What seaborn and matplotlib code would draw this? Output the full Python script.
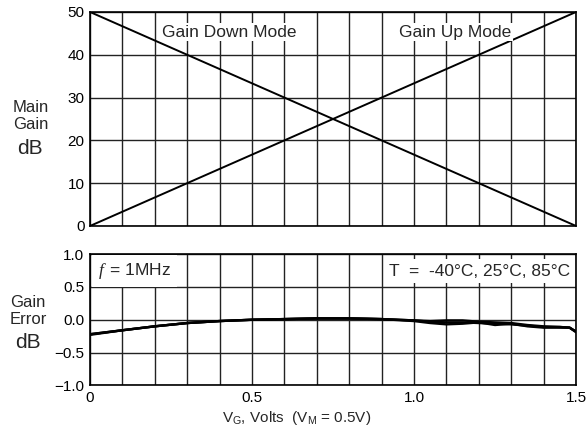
import numpy as np
import pandas as pd
import matplotlib.pyplot as plt
import seaborn as sns
from matplotlib.ticker import MultipleLocator, FixedLocator, FixedFormatter

# main gain vs VG (straight lines)
vg_gain = [0.0, 1.5]
gain_down = [50, 0]
gain_up = [0, 50]

# gain error vs VG, three temperatures
vg_err = [0.0, 0.1, 0.2, 0.3, 0.4, 0.5, 0.6, 0.7, 0.8, 0.9, 1.0,
          1.05, 1.1, 1.15, 1.2, 1.25, 1.3, 1.35, 1.4, 1.45, 1.48, 1.5]
err_m40 = [-0.22, -0.16, -0.10, -0.05, -0.02, 0.00, 0.01, 0.02, 0.02, 0.01, -0.01,
           -0.02, -0.01, -0.01, -0.03, -0.04, -0.05, -0.08, -0.10, -0.11, -0.12, -0.18]
err_25 = [-0.22, -0.16, -0.10, -0.05, -0.02, 0.00, 0.01, 0.02, 0.02, 0.01, -0.01,
          -0.03, -0.04, -0.04, -0.05, -0.06, -0.07, -0.09, -0.11, -0.11, -0.12, -0.18]
err_85 = [-0.23, -0.16, -0.10, -0.05, -0.02, 0.00, 0.01, 0.02, 0.02, 0.01, -0.02,
          -0.05, -0.07, -0.06, -0.04, -0.08, -0.06, -0.10, -0.12, -0.12, -0.12, -0.19]

x_ticks = [0, 0.5, 1.0, 1.5]
x_tick_labels = ["0", "0.5", "1.0", "1.5"]
gain_ticks = [0, 10, 20, 30, 40, 50]
gain_tick_labels = ["0", "10", "20", "30", "40", "50"]
err_ticks = [-1.0, -0.5, 0.0, 0.5, 1.0]
err_tick_labels = ["\u22121.0", "\u22120.5", "0.0", "0.5", "1.0"]

sns.set_style("white")
plt.rcParams["font.family"] = ["Liberation Sans", "DejaVu Sans"]
plt.rcParams["mathtext.fontset"] = "custom"
plt.rcParams["mathtext.rm"] = "Liberation Sans"
plt.rcParams["mathtext.sf"] = "Liberation Sans"
plt.rcParams["mathtext.it"] = "Liberation Serif:italic"

df_gain = pd.DataFrame({
    "VG": vg_gain + vg_gain,
    "Gain": gain_down + gain_up,
    "Mode": ["Down"] * 2 + ["Up"] * 2,
})
df_err = pd.DataFrame({
    "VG": vg_err * 3,
    "Err": err_m40 + err_25 + err_85,
    "T": ["-40"] * len(vg_err) + ["25"] * len(vg_err) + ["85"] * len(vg_err),
})

fig = plt.figure(figsize=(5.87, 4.34), dpi=100)
ax1 = fig.add_axes([0.1533, 0.4793, 0.828, 0.4931])
ax2 = fig.add_axes([0.1533, 0.1118, 0.828, 0.3029])

sns.lineplot(data=df_gain, x="VG", y="Gain", hue="Mode",
             palette=["black", "black"], lw=1.4, legend=False, ax=ax1)
sns.lineplot(data=df_err, x="VG", y="Err", hue="T",
             palette=["black"] * 3, lw=1.7, legend=False, ax=ax2)

for ax in (ax1, ax2):
    ax.set_xlim(0, 1.5)
    ax.xaxis.set_major_locator(FixedLocator(x_ticks))
    ax.xaxis.set_minor_locator(MultipleLocator(0.1))
    ax.grid(which="both", color="#222222", lw=1.0)
    ax.tick_params(which="both", length=0, pad=4, labelsize=11, colors="black")
    ax.set_xlabel("")
    ax.set_ylabel("")
    for sp in ax.spines.values():
        sp.set_color("black")
        sp.set_linewidth(1.2)

ax1.set_ylim(0, 50)
ax1.yaxis.set_major_locator(FixedLocator(gain_ticks))
ax1.yaxis.set_major_formatter(FixedFormatter(gain_tick_labels))
ax1.set_xticklabels([])

ax2.set_ylim(-1, 1)
ax2.yaxis.set_major_locator(FixedLocator(err_ticks))
ax2.yaxis.set_major_formatter(FixedFormatter(err_tick_labels))
ax2.xaxis.set_major_formatter(FixedFormatter(x_tick_labels))

ax1.text(0.43, 45.3, "Gain Down Mode", ha="center", va="center", fontsize=12.5,
         bbox=dict(boxstyle="square,pad=0.1", fc="white", ec="none"), zorder=5)
ax1.text(1.127, 45.3, "Gain Up Mode", ha="center", va="center", fontsize=12.5,
         bbox=dict(boxstyle="square,pad=0.1", fc="white", ec="none"), zorder=5)

ax2.text(0.025, 0.74, r"$f\,$ = 1MHz", ha="left", va="center", fontsize=12.5,
         bbox=dict(boxstyle="square,pad=0.35", fc="white", ec="none"),
         zorder=5, clip_on=False)
ax2.text(1.482, 0.74, "T  =  -40\u00b0C, 25\u00b0C, 85\u00b0C", ha="right", va="center",
         fontsize=12.5, bbox=dict(boxstyle="square,pad=0.25", fc="white", ec="none"),
         zorder=5, clip_on=False)

ax2.set_xlabel(r"V$_\mathrm{G}$, Volts  (V$_\mathrm{M}$ = 0.5V)", fontsize=11)
ax2.xaxis.set_label_coords(0.426, -0.18)

fig.text(13 / 587, 1 - 116 / 434, "Main\nGain", ha="left", va="center",
         fontsize=12, linespacing=1.2)
fig.text(30 / 587, 1 - 149 / 434, "dB", ha="center", va="center", fontsize=15)
fig.text(10 / 587, 1 - 311 / 434, "Gain\nError", ha="left", va="center",
         fontsize=12, linespacing=1.2)
fig.text(28 / 587, 1 - 343 / 434, "dB", ha="center", va="center", fontsize=15)

fig.savefig("out.png", dpi=100)
